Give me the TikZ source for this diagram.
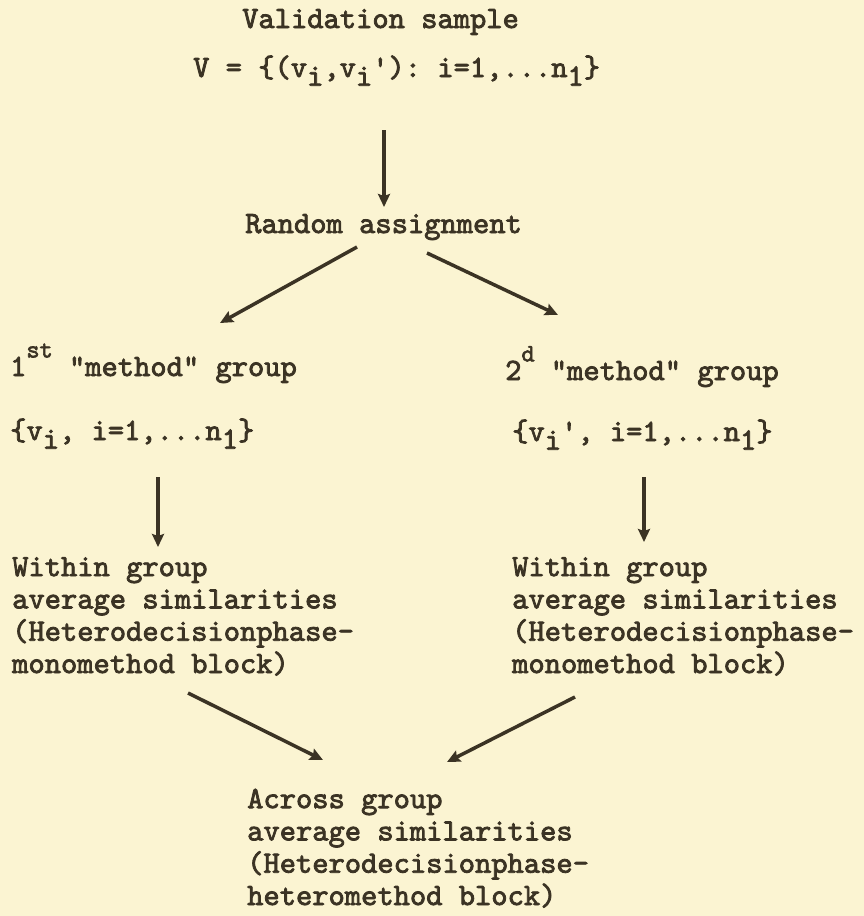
\documentclass[tikz,border=0pt]{standalone}
\usepackage{fontspec}
\setmonofont{lmmono10-regular.otf}[FakeBold=2.5]
\usetikzlibrary{arrows.meta,calc}
\definecolor{bgcol}{HTML}{FBF4D2}
\definecolor{ink}{HTML}{3B3324}
\newcommand\tsub[1]{\raisebox{-0.28em}{#1}}
\newcommand\tsup[1]{\raisebox{0.6em}{\fontsize{25}{25}\selectfont #1}}
\begin{document}
\begin{tikzpicture}[x=1pt,y=-1pt,
  txt/.style={anchor=base west,inner sep=0pt,align=left,text=ink,
    font=\ttfamily\fontsize{31}{32.3}\selectfont},
  arr/.style={draw=ink,line width=3.5pt,-{Stealth[length=13pt,width=12pt,inset=2pt]}}]
\fill[bgcol] (0,0) rectangle (864,916);
\useasboundingbox (0,0) rectangle (864,916);

\node[txt] (vs) at (242,28) {Validation sample};
\node[txt] (vset) at (193,77) {V = \{(v\tsub{i},v\tsub{i}'): i=1,...n\tsub{1}\}};
\node[txt] (ra) at (245,233) {Random assignment};
\node[txt] (g1) at (10,376) {1\tsup{st} "method" group};
\node[txt] (s1) at (10,440) {\{v\tsub{i}, i=1,...n\tsub{1}\}};
\node[txt] (g2) at (505,380) {2\tsup{d} "method" group};
\node[txt] (s2) at (512,441) {\{v\tsub{i}', i=1,...n\tsub{1}\}};
\node[txt] (w1) at (12,673) {Within group\\average similarities\\(Heterodecisionphase-\\monomethod block)};
\node[txt] (w2) at (512,673) {Within group\\average similarities\\(Heterodecisionphase-\\monomethod block)};
\node[txt] (ac) at (247,905) {Across group\\average similarities\\(Heterodecisionphase-\\heteromethod block)};

\draw[arr] ($(vset.base west)+(191,53)$) -- ($(ra.base west)+(139,-26)$);
\draw[arr] ($(ra.base west)+(112,14)$) -- ($(g1.base west)+(210,-53)$);
\draw[arr] ($(ra.base west)+(182,20)$) -- ($(g2.base west)+(53,-65)$);
\draw[arr] ($(s1.base west)+(148,37)$) -- ($(w1.base west)+(146,-126)$);
\draw[arr] ($(s2.base west)+(132,36)$) -- ($(w2.base west)+(132,-131)$);
\draw[arr] ($(w1.base west)+(176,20)$) -- ($(ac.base west)+(76,-145)$);
\draw[arr] ($(w2.base west)+(63,24)$) -- ($(ac.base west)+(200,-143)$);
\end{tikzpicture}
\end{document}
